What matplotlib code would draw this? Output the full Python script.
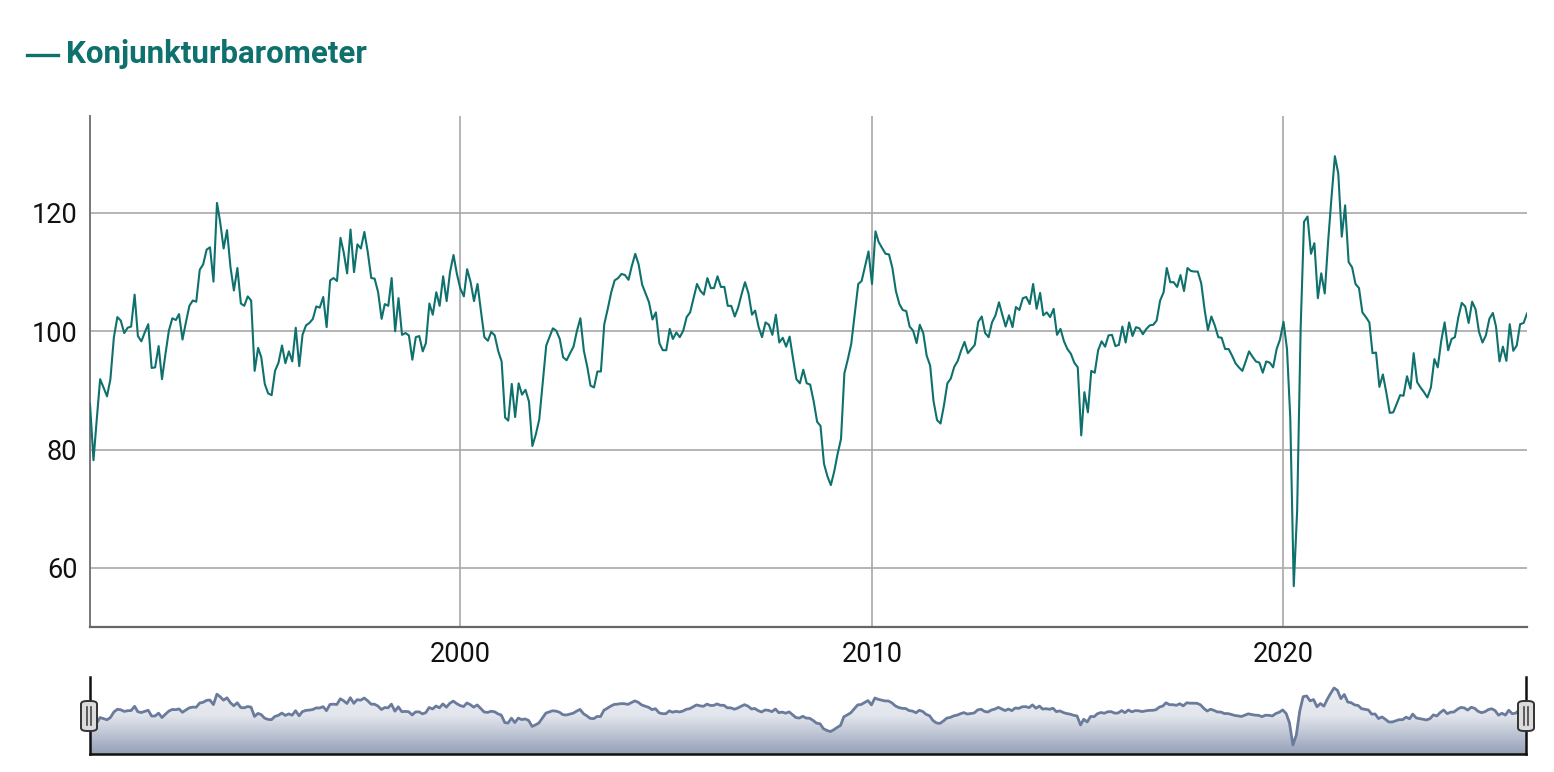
import numpy as np
import pandas as pd
import matplotlib
matplotlib.use("Agg")
import matplotlib.pyplot as plt
import matplotlib.dates as mdates
from matplotlib.colors import LinearSegmentedColormap
from matplotlib.patches import FancyBboxPatch
from matplotlib.lines import Line2D

# ---------------- data (monthly, Jan 1991 onwards) ----------------
start_month = "1991-01-01"
barometer = [
    87.7, 78.2, 84.9, 91.9, 90.5, 89.0, 91.9, 99.0, 102.4, 101.8, 99.7, 100.6,
    100.8, 106.2, 99.2, 98.3, 99.8, 101.2, 93.8, 93.9, 97.5, 91.9, 96.2, 100.1,
    102.2, 101.9, 102.9, 98.6, 101.5, 104.3, 105.2, 105.0, 110.4, 111.3, 113.8, 114.2,
    108.4, 121.7, 118.5, 114.0, 117.1, 110.8, 106.9, 110.7, 104.7, 104.3, 105.9, 105.2,
    93.3, 97.2, 95.6, 91.1, 89.5, 89.2, 93.3, 94.7, 97.6, 94.6, 96.6, 94.9,
    100.6, 94.1, 99.4, 101.0, 101.4, 102.1, 104.2, 104.0, 105.8, 100.7, 108.6, 109.0,
    108.5, 115.8, 113.4, 109.8, 117.2, 110.0, 114.7, 114.0, 116.8, 113.4, 109.0, 108.9,
    106.6, 102.1, 104.6, 104.3, 109.0, 100.0, 105.6, 99.4, 99.7, 99.3, 95.2, 99.0,
    99.2, 96.6, 98.0, 104.7, 102.8, 106.6, 104.3, 109.3, 105.1, 110.0, 112.9, 109.7,
    107.2, 105.9, 110.5, 108.3, 105.1, 108.0, 103.5, 99.0, 98.4, 99.9, 99.3, 96.7,
    94.9, 85.4, 84.9, 91.1, 85.5, 91.2, 89.3, 90.1, 88.1, 80.6, 82.6, 85.1,
    91.4, 97.6, 99.0, 100.5, 100.1, 98.7, 95.6, 95.1, 96.3, 97.4, 100.1, 102.2,
    96.7, 93.9, 90.8, 90.5, 93.2, 93.2, 101.2, 103.8, 106.6, 108.6, 109.0, 109.7,
    109.5, 108.7, 111.0, 113.1, 111.3, 107.9, 106.4, 104.9, 102.0, 103.2, 98.0, 96.8,
    96.8, 100.4, 98.7, 99.8, 99.0, 100.1, 102.4, 103.2, 105.6, 108.0, 106.8, 106.2,
    109.0, 107.3, 107.3, 109.3, 107.5, 107.5, 104.3, 104.3, 102.5, 104.0, 106.3, 108.3,
    106.4, 102.8, 103.5, 100.7, 99.0, 101.5, 101.1, 99.4, 102.8, 98.1, 98.9, 97.4,
    99.1, 95.3, 91.9, 91.2, 93.5, 91.2, 91.0, 88.2, 84.7, 84.0, 77.6, 75.5,
    74.0, 76.4, 79.2, 81.8, 92.9, 95.3, 97.9, 102.9, 108.0, 108.5, 111.0, 113.5,
    108.0, 116.9, 115.1, 114.1, 113.1, 113.0, 110.7, 106.8, 104.6, 103.6, 103.4, 100.8,
    100.1, 98.0, 101.1, 99.7, 95.9, 94.2, 88.2, 85.0, 84.4, 87.4, 91.2, 92.0,
    94.0, 95.0, 96.7, 98.2, 96.3, 97.0, 97.7, 101.6, 102.5, 99.7, 99.0, 101.5,
    102.7, 104.9, 102.9, 100.8, 102.7, 100.7, 104.1, 103.6, 105.6, 105.8, 104.6, 108.0,
    103.8, 106.5, 102.7, 103.2, 102.4, 103.8, 99.4, 100.4, 98.3, 97.0, 96.2, 94.7,
    93.9, 82.4, 89.7, 86.3, 93.3, 93.0, 96.8, 98.3, 97.4, 99.3, 99.4, 97.5,
    97.7, 100.8, 98.1, 101.5, 99.2, 100.7, 100.5, 99.5, 100.4, 101.0, 101.1, 101.8,
    105.2, 106.6, 110.7, 108.3, 108.3, 107.5, 109.5, 106.8, 110.7, 110.2, 110.1, 110.1,
    108.1, 103.5, 100.2, 102.5, 101.0, 99.0, 98.9, 97.0, 97.0, 95.9, 94.6, 93.9,
    93.3, 95.0, 96.6, 95.7, 94.9, 94.7, 93.0, 94.9, 94.7, 93.9, 97.0, 98.6,
    101.6, 97.0, 85.4, 56.9, 69.6, 100.4, 118.5, 119.4, 113.1, 114.9, 105.6, 109.8,
    106.4, 115.4, 122.4, 129.6, 126.7, 116.0, 121.3, 111.7, 110.8, 108.0, 107.3, 103.2,
    102.4, 101.5, 96.3, 96.4, 90.6, 92.7, 89.7, 86.2, 86.3, 87.7, 89.2, 89.1,
    92.4, 90.3, 96.3, 91.4, 90.5, 89.7, 88.8, 90.5, 95.3, 93.9, 98.4, 101.5,
    96.8, 98.7, 99.0, 102.4, 104.8, 104.2, 101.4, 105.0, 103.7, 99.9, 98.1, 99.3,
    102.1, 103.1, 100.8, 94.9, 97.4, 95.0, 101.2, 96.7, 97.6, 101.2, 101.4, 103.0,
]
series_name = "Konjunkturbarometer"
y_ticks = [60, 80, 100, 120]
x_tick_years = [2000, 2010, 2020]

dates = pd.date_range(start_month, periods=len(barometer), freq="MS")
vals = np.array(barometer)

# ---------------- style ----------------
TEAL = "#0e716d"
GRID = "#a8a8a8"
plt.rcParams["font.family"] = ["Roboto", "DejaVu Sans"]

W, H = 1554, 772
fig = plt.figure(figsize=(W / 100, H / 100), dpi=100)
fig.patch.set_facecolor("white")


def px_box(left, top, right, bottom):
    """pixel box -> figure fraction rect"""
    return [left / W, 1 - bottom / H, (right - left) / W, (bottom - top) / H]


# ---------------- main chart ----------------
ax = fig.add_axes(px_box(90, 116, 1527, 627))
ax.plot(dates, vals, color=TEAL, lw=1.5, zorder=3)
ax.set_xlim(dates[0], dates[-1])
ax.set_ylim(50, 136.4)

ax.set_yticks(y_ticks)
ax.set_xticks([pd.Timestamp(f"{y}-01-01") for y in x_tick_years])
ax.xaxis.set_major_formatter(mdates.DateFormatter("%Y"))
ax.grid(True, color=GRID, lw=1.2)
ax.set_axisbelow(True)
ax.tick_params(length=0, labelsize=19.5, pad=10, colors="#111111")
ax.tick_params(axis="y", pad=9)
for s in ("top", "right"):
    ax.spines[s].set_visible(False)
ax.spines["left"].set_color("#777777")
ax.spines["left"].set_linewidth(1.4)
ax.spines["bottom"].set_color("#666666")
ax.spines["bottom"].set_linewidth(1.6)

# ---------------- legend / title ----------------
fig.add_artist(Line2D([27 / W, 58 / W], [1 - 55 / H, 1 - 55 / H],
                      color=TEAL, lw=2.4, transform=fig.transFigure))
fig.text(66 / W, 1 - 54 / H, series_name, color=TEAL, fontsize=22.5,
         fontweight="bold", va="center", ha="left")

# ---------------- navigator ----------------
nav = fig.add_axes(px_box(90, 677, 1526, 754))
nav_lo, nav_hi = 45.4, 143.6
nav.set_xlim(dates[0], dates[-1])
nav.set_ylim(nav_lo, nav_hi)
poly = nav.fill_between(dates, vals, nav_lo, color="none", lw=0)
cmap = LinearSegmentedColormap.from_list("nav", ["#95a0b8", "#e2e5ec", "#f3f4f7"])
grad = np.linspace(0, 1, 256).reshape(-1, 1)
x0, x1 = mdates.date2num(dates[0]), mdates.date2num(dates[-1])
img = nav.imshow(grad, extent=[x0, x1, nav_lo, nav_hi], origin="lower",
                 aspect="auto", cmap=cmap, zorder=1)
img.set_clip_path(poly.get_paths()[0], transform=nav.transData)
nav.plot(dates, vals, color="#6a7b9c", lw=2.0, zorder=2)
nav.set_xticks([])
nav.set_yticks([])
nav.spines["top"].set_visible(False)
for s in ("left", "right", "bottom"):
    nav.spines[s].set_color("#111111")
    nav.spines[s].set_linewidth(1.8)

# handles
for cx in (89, 1526):
    hb = px_box(cx - 8, 701, cx + 8, 731)
    fig.add_artist(FancyBboxPatch((hb[0], hb[1]), hb[2], hb[3],
                                  boxstyle="round,pad=0,rounding_size=0.004",
                                  transform=fig.transFigure, fc="#dcdcdc",
                                  ec="#333333", lw=1.4, zorder=5))
    for dx in (-2, 2):
        fig.add_artist(Line2D([(cx + dx) / W] * 2, [1 - 707 / H, 1 - 725 / H],
                              color="#444444", lw=1.2, transform=fig.transFigure,
                              zorder=6))

fig.savefig("out.png", dpi=100)
